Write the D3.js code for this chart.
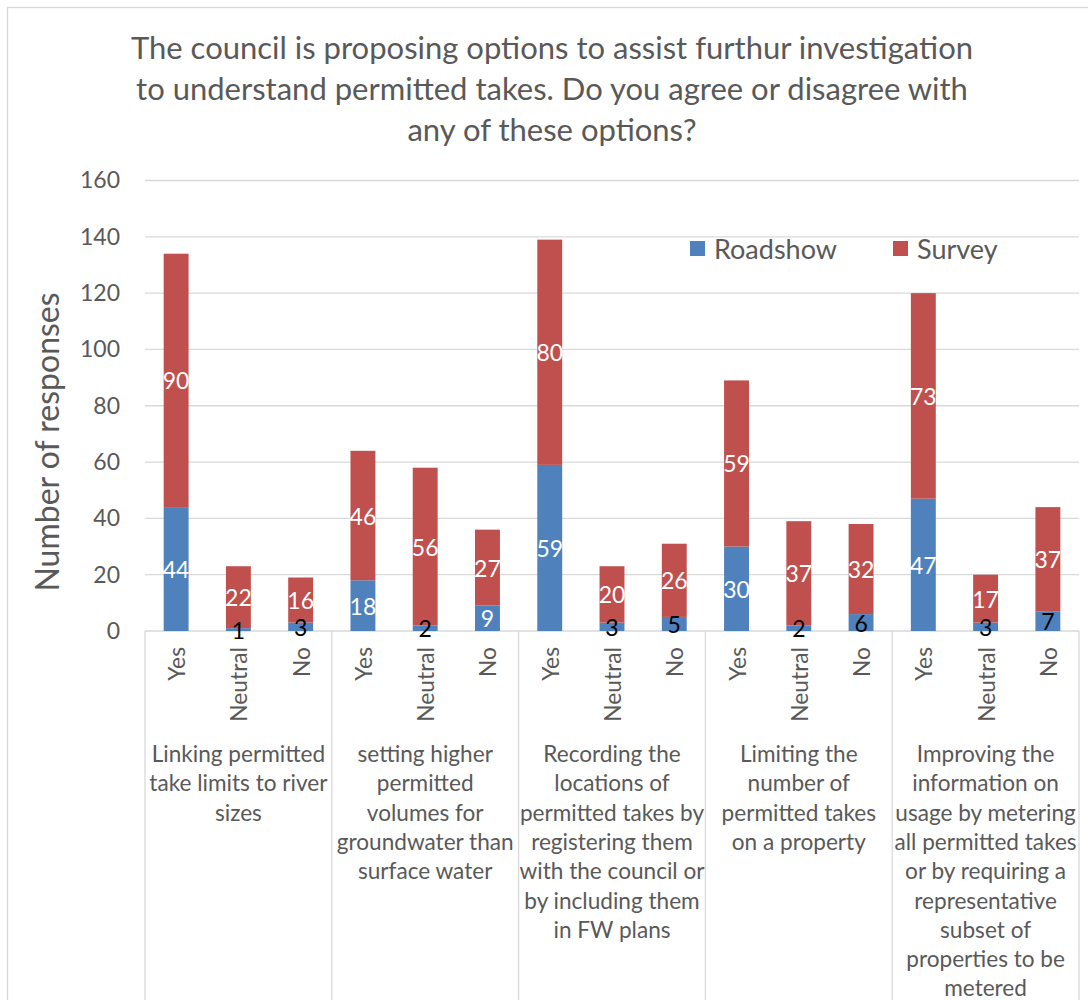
<!DOCTYPE html>
<html>
<head>
<meta charset="utf-8">
<script src="https://cdn.jsdelivr.net/npm/d3@7"></script>
<style>
  html, body { margin: 0; padding: 0; background: #fff; }
  svg { display: block; font-family: Lato, "Open Sans", sans-serif; }
</style>
</head>
<body>
<svg id="chart" width="1088" height="1000"></svg>
<script>
// Responses per option, split by answer and by collection channel
const groups = [
  ["Linking permitted", "take limits to river", "sizes"],
  ["setting higher", "permitted", "volumes for", "groundwater than", "surface water"],
  ["Recording the", "locations of", "permitted takes by", "registering them", "with the council or", "by including them", "in FW plans"],
  ["Limiting the", "number of", "permitted takes", "on a property"],
  ["Improving the", "information on", "usage by metering", "all permitted takes", "or by requiring a", "representative", "subset of", "properties to be", "metered"]
];
const answers = ["Yes", "Neutral", "No"];
const roadshow = [44, 1, 3, 18, 2, 9, 59, 3, 5, 30, 2, 6, 47, 3, 7];
const survey   = [90, 22, 16, 46, 56, 27, 80, 20, 26, 59, 37, 32, 73, 17, 37];
const seriesNames = ["Roadshow", "Survey"];
const yTicks = [0, 20, 40, 60, 80, 100, 120, 140, 160];
const titleLines = [
  "The council is proposing options to assist furthur investigation",
  "to understand permitted takes. Do you agree or disagree with",
  "any of these options?"
];

const colors = { Roadshow: "#4F81BD", Survey: "#C0504D" };
const textGrey = "#595959";
const gridGrey = "#D9D9D9";

const svg = d3.select("#chart");

// chart frame
svg.append("rect")
  .attr("x", 7.5).attr("y", 7.5)
  .attr("width", 1090).attr("height", 1010)
  .attr("fill", "#fff").attr("stroke", gridGrey).attr("stroke-width", 1.3);

// one row per bar
const rows = roadshow.map((r, i) => ({
  key: i,
  group: Math.floor(i / 3),
  answer: answers[i % 3],
  Roadshow: r,
  Survey: survey[i]
}));

const plot = { left: 145, right: 1079, top: 180.5, bottom: 631 };

const x = d3.scaleBand()
  .domain(rows.map(d => d.key))
  .range([plot.left, plot.right])
  .paddingInner(0.6)
  .paddingOuter(0.3);

const y = d3.scaleLinear()
  .domain([0, 160])
  .range([plot.bottom, plot.top]);

// title
svg.append("g").selectAll("text")
  .data(titleLines)
  .join("text")
  .attr("x", 552)
  .attr("y", (d, i) => 47 + i * 41)
  .attr("text-anchor", "middle")
  .attr("dominant-baseline", "central")
  .attr("fill", textGrey)
  .attr("font-size", 31)
  .text(d => d);

// horizontal gridlines (the zero line doubles as the category axis)
svg.append("g").selectAll("line")
  .data(yTicks)
  .join("line")
  .attr("x1", plot.left).attr("x2", plot.right)
  .attr("y1", d => y(d)).attr("y2", d => y(d))
  .attr("stroke", gridGrey).attr("stroke-width", 1.3);

// group separators below the category axis
const groupEdges = d3.range(groups.length + 1).map(g => g === groups.length
  ? plot.right
  : x(g * 3) - x.step() * x.paddingOuter());
svg.append("g").selectAll("line")
  .data(groupEdges)
  .join("line")
  .attr("x1", d => d).attr("x2", d => d)
  .attr("y1", plot.bottom).attr("y2", 1000)
  .attr("stroke", gridGrey).attr("stroke-width", 1.3);

// y axis labels
const yAxis = svg.append("g")
  .attr("transform", `translate(${plot.left - 25},0)`)
  .call(d3.axisLeft(y).tickValues(yTicks).tickSize(0).tickPadding(0));
yAxis.select(".domain").remove();
yAxis.selectAll("text")
  .attr("fill", textGrey)
  .attr("font-size", 23)
  .attr("font-family", "Lato, sans-serif");

// y axis title
svg.append("text")
  .attr("transform", "translate(46,442) rotate(-90)")
  .attr("text-anchor", "middle")
  .attr("dominant-baseline", "central")
  .attr("fill", textGrey)
  .attr("font-size", 32)
  .text("Number of responses");

// stacked bars
const stack = d3.stack().keys(seriesNames);
const stacked = stack(rows);

const layers = svg.append("g").selectAll("g")
  .data(stacked)
  .join("g")
  .attr("fill", d => colors[d.key]);

layers.selectAll("rect")
  .data(d => d)
  .join("rect")
  .attr("x", d => x(d.data.key))
  .attr("width", x.bandwidth())
  .attr("y", d => y(d[1]))
  .attr("height", d => y(d[0]) - y(d[1]));

// value labels centred in each segment
const labelDark = v => v < 9;
const labels = svg.append("g");
stacked.forEach(layer => {
  labels.append("g").selectAll("text")
    .data(layer)
    .join("text")
    .attr("x", d => x(d.data.key) + x.bandwidth() / 2)
    .attr("y", d => y((d[0] + d[1]) / 2))
    .attr("text-anchor", "middle")
    .attr("dominant-baseline", "central")
    .attr("font-size", 23)
    .attr("fill", d => (layer.key === "Roadshow" && labelDark(d.data.Roadshow)) ? "#000" : "#fff")
    .text(d => d.data[layer.key]);
});

// answer labels, rotated
svg.append("g").selectAll("text")
  .data(rows)
  .join("text")
  .attr("transform", d => `translate(${x(d.key) + x.bandwidth() / 2},647) rotate(-90)`)
  .attr("text-anchor", "end")
  .attr("dominant-baseline", "central")
  .attr("fill", textGrey)
  .attr("font-size", 22.8)
  .text(d => d.answer);

// option labels under each group
const groupLabels = svg.append("g").selectAll("text")
  .data(groups)
  .join("text")
  .attr("x", (d, g) => (groupEdges[g] + groupEdges[g + 1]) / 2)
  .attr("text-anchor", "middle")
  .attr("fill", textGrey)
  .attr("font-size", 22.6);
groupLabels.selectAll("tspan")
  .data(d => d)
  .join("tspan")
  .attr("x", function () { return d3.select(this.parentNode).attr("x"); })
  .attr("y", (d, i) => 762 + i * 29.3)
  .text(d => d);

// legend
const legend = svg.append("g").selectAll("g")
  .data(seriesNames)
  .join("g")
  .attr("transform", (d, i) => `translate(${[690, 893][i]},241)`);
legend.append("rect")
  .attr("width", 15).attr("height", 15)
  .attr("fill", d => colors[d]);
legend.append("text")
  .attr("x", 24).attr("y", 7.5)
  .attr("dominant-baseline", "central")
  .attr("fill", textGrey)
  .attr("font-size", 27)
  .text(d => d);
</script>
</body>
</html>
